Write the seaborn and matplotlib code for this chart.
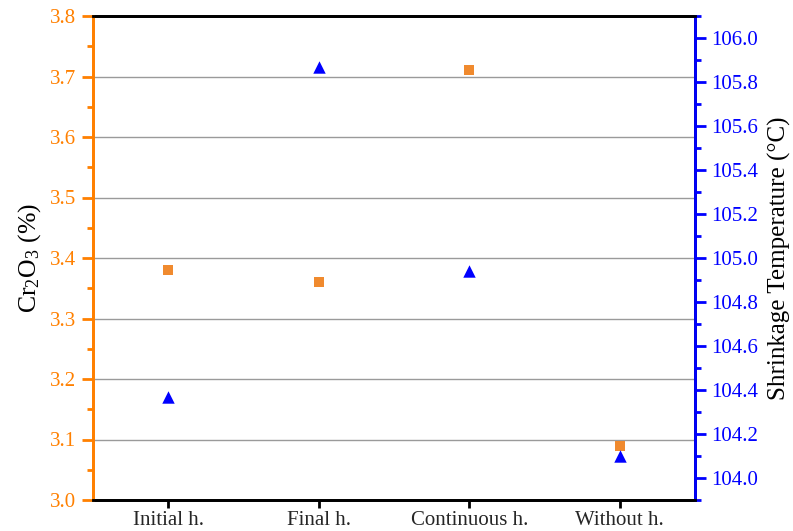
import matplotlib
matplotlib.use("Agg")
import matplotlib.pyplot as plt
from matplotlib.ticker import MultipleLocator, FormatStrFormatter
import seaborn as sns
import pandas as pd

# Tanning process variants
treatments = ["Initial h.", "Final h.", "Continuous h.", "Without h."]
# Chromium oxide content (%)
cr2o3 = [3.38, 3.36, 3.71, 3.09]
# Shrinkage temperature (°C)
shrink_temp = [104.37, 105.87, 104.94, 104.10]

df = pd.DataFrame({"treatment": treatments, "cr2o3": cr2o3, "ts": shrink_temp})

sns.set_theme(style="white")
plt.rcParams["font.family"] = ["Liberation Serif", "DejaVu Serif"]
plt.rcParams["mathtext.fontset"] = "custom"
plt.rcParams["mathtext.rm"] = "Liberation Serif"

ORANGE_AX = "#FF8000"
ORANGE_PT = "#F08A2E"
BLUE = "#0000FF"

fig = plt.figure(figsize=(7.93, 5.31), dpi=100)
ax = fig.add_axes([93 / 793, 31 / 531, 602 / 793, 484 / 531])
ax2 = ax.twinx()

sns.scatterplot(data=df, x="treatment", y="cr2o3", ax=ax, marker="s",
                color=ORANGE_PT, s=48, linewidth=0, zorder=3)
sns.scatterplot(data=df, x="treatment", y="ts", ax=ax2, marker="^",
                color=BLUE, s=80, linewidth=0, zorder=3)

ax.set_xlim(-0.5, 3.5)
ax.set_ylim(3.0, 3.8)
ax2.set_ylim(103.9, 106.1)

ax.yaxis.set_major_locator(MultipleLocator(0.1))
ax.yaxis.set_minor_locator(MultipleLocator(0.05))
ax2.yaxis.set_major_locator(MultipleLocator(0.2))
ax2.yaxis.set_minor_locator(MultipleLocator(0.1))
ax.yaxis.set_major_formatter(FormatStrFormatter("%.1f"))
ax2.yaxis.set_major_formatter(FormatStrFormatter("%.1f"))

ax.grid(axis="y", color="#9A9A9A", linewidth=1.0)
ax.grid(axis="x", visible=False)
ax2.grid(False)
ax.set_axisbelow(True)

ax.set_xlabel("")
ax.set_ylabel(r"Cr$\mathregular{_2}$O$\mathregular{_3}$ (%)", fontsize=18.5,
              color="black", labelpad=5)
ax2.set_ylabel("Shrinkage Temperature (°C)", fontsize=18, color="black",
               labelpad=7)

for a in (ax, ax2):
    for s in a.spines.values():
        s.set_linewidth(2.0)
        s.set_color("black")
ax.spines["left"].set_color(ORANGE_AX)
ax2.spines["left"].set_color(ORANGE_AX)
ax2.spines["right"].set_color(BLUE)

ax.tick_params(axis="y", which="major", direction="out", length=8, width=2,
               color=ORANGE_AX, labelcolor=ORANGE_AX, labelsize=15, left=True,
               pad=4)
ax.tick_params(axis="y", which="minor", direction="out", length=4, width=2,
               color=ORANGE_AX, left=True)
ax.tick_params(axis="x", direction="out", length=6, width=2, color="black",
               labelsize=15, bottom=True, pad=2)
ax2.tick_params(axis="y", which="major", direction="out", length=8, width=2,
                color=BLUE, labelcolor=BLUE, labelsize=15, right=True, pad=4)
ax2.tick_params(axis="y", which="minor", direction="out", length=4, width=2,
                color=BLUE, right=True)

fig.savefig("out.png", dpi=100)
